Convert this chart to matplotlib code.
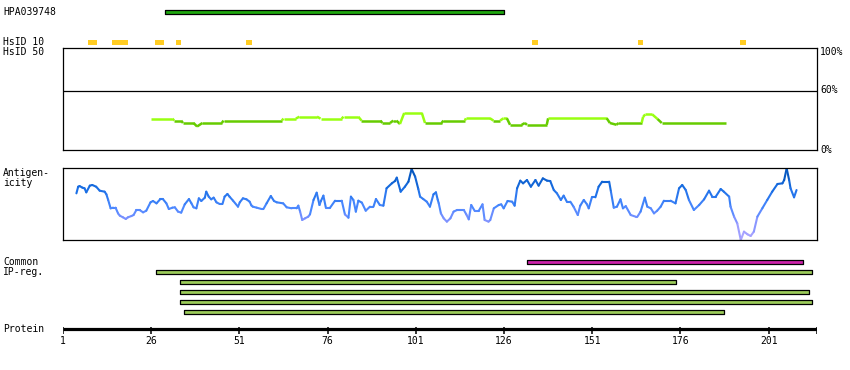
import matplotlib
matplotlib.use("Agg")
import matplotlib.pyplot as plt
import numpy as np
from matplotlib.collections import LineCollection
from matplotlib.colors import LinearSegmentedColormap

# ---------------- data ----------------
protein_len_end = 214.7
tick_residues = [1, 26, 51, 76, 101, 126, 151, 176, 201]

hpa_start, hpa_end = 30, 126

hsid10_starts = [8, 15, 27, 33, 53, 134, 164, 193]
hsid10_ends = [10.5, 19.5, 29.5, 34.5, 54.5, 135.5, 165.5, 194.5]

hs_res = [26, 32, 32.5, 34.5, 35, 38, 39, 40.5, 46, 46.5, 63, 63.5, 67, 68, 73, 74, 80, 80.5,
          84.7, 85.6, 91, 91.5, 93.7, 94.6, 95.5, 96.5, 97.7, 102.7, 103.6, 108.3, 108.8,
          114.9, 115.2, 122, 123, 124.9, 125.8, 126.8, 127.7, 131, 131.9, 132.5, 138.1,
          138.5, 155.1, 156, 157.9, 158.4, 165, 165.4, 166, 168, 169.5, 170.7, 189]
hs_val = [31.4, 31.4, 29.4, 29.4, 27, 27, 23.5, 27, 27, 29.4, 29.4, 31.4, 31.4, 33.3, 33.3,
          31.4, 31.4, 33.3, 33.3, 29.4, 29.4, 27, 27, 29.4, 29.4, 26, 37, 37, 27, 27, 29.4,
          29.4, 31.7, 31.7, 29.4, 29.4, 31.7, 31.7, 25.2, 25.2, 27, 25.2, 25.2, 31.7, 31.7,
          27, 25.2, 27, 27, 33, 35.6, 35.6, 31, 27, 27]

ag_res = [4.8, 5.3, 5.7, 6.5, 7.1, 7.6, 8.6, 9.3, 10.4, 11.4, 12.8, 13.3, 13.8, 14.5, 15.2,
          15.9, 16.6, 17.1, 18.0, 18.8, 19.4, 20.4, 21.0, 21.8, 22.7, 23.7, 24.6, 25.8, 26.5,
          27.5, 28.6, 29.3, 30.3, 31.0, 32.0, 32.7, 33.6, 34.5, 35.5, 36.7, 37.4, 38.0, 38.8,
          39.5, 40.2, 41.2, 41.6, 42.3, 43.0, 43.7, 44.5, 45.4, 46.2, 46.8, 47.6, 48.2, 49.2,
          50.6, 51.1, 52.0, 53.0, 53.9, 54.4, 54.8, 55.9, 57.3, 57.8, 58.7, 59.9, 60.8, 61.6,
          63.4, 64.4, 65.8, 67.2, 67.7, 68.2, 68.8, 69.6, 70.5, 71.0, 72.0, 72.9, 73.7, 74.1,
          74.8, 75.5, 76.7, 78.1, 80.0, 80.9, 81.9, 82.6, 83.3, 84.0, 84.7, 85.7, 86.8, 88.0,
          89.0, 89.7, 90.8, 91.8, 92.7, 94.2, 95.1, 95.6, 96.7, 97.9, 98.9, 99.8, 100.8, 101.7,
          102.2, 103.1, 104.1, 105.0, 106.0, 106.7, 107.2, 107.5, 108.1, 108.9, 109.8, 110.8,
          111.7, 112.7, 113.6, 114.6, 115.3, 116.0, 116.7, 117.7, 118.8, 119.9, 120.5, 121.6,
          122.1, 123.1, 124.5, 125.2, 125.9, 127.0, 128.3, 129.0, 129.7, 130.6, 131.4, 132.5,
          133.6, 134.9, 135.8, 137.0, 138.2, 139.1, 140.1, 141.0, 142.1, 142.9, 143.8, 144.8,
          145.7, 146.9, 147.6, 148.6, 149.5, 150.0, 150.9, 151.9, 152.8, 153.8, 155.8, 156.3,
          157.1, 158.0, 159.0, 159.7, 160.5, 161.9, 163.3, 163.8, 164.7, 165.9, 166.6, 167.6,
          168.5, 169.4, 170.4, 171.3, 173.2, 174.6, 175.6, 176.5, 177.5, 178.4, 179.8, 181.3,
          182.7, 184.1, 185.0, 186.0, 187.4, 188.3, 189.8, 190.2, 191.2, 192.1, 193.1, 194.0,
          195.0, 195.9, 196.8, 197.8, 199.2, 200.6, 202.0, 203.5, 204.9, 205.4, 206.1, 206.8,
          207.2, 208.2, 208.9]
ag_val = [64.8, 74.0, 74.9, 72.7, 71.8, 66.2, 75.5, 76.4, 74.0, 68.5, 67.1, 63.4, 55.6, 44.0,
          44.9, 44.9, 37.0, 33.8, 31.5, 29.2, 31.5, 33.3, 34.7, 41.7, 41.7, 38.4, 40.7, 52.3,
          54.2, 50.9, 56.9, 56.9, 50.9, 43.0, 44.9, 45.4, 39.4, 38.0, 49.5, 56.9, 50.9, 45.4,
          44.0, 57.9, 54.2, 58.8, 67.1, 60.2, 56.5, 58.8, 52.3, 50.0, 50.0, 60.2, 63.9, 60.2,
          54.6, 46.3, 52.3, 57.9, 56.5, 53.2, 48.0, 46.3, 44.9, 43.0, 43.0, 50.9, 61.1, 54.2,
          52.3, 50.9, 45.4, 44.0, 44.0, 47.7, 39.4, 27.8, 30.1, 32.4, 35.6, 55.6, 65.7, 48.6,
          54.2, 61.6, 44.9, 44.9, 54.6, 54.6, 35.6, 31.0, 60.2, 55.6, 39.4, 54.6, 51.9, 40.7,
          46.3, 46.3, 56.9, 48.6, 47.7, 71.8, 78.7, 81.9, 86.6, 67.1, 74.0, 81.0, 98.6, 88.0,
          70.8, 60.2, 56.9, 53.2, 46.3, 63.4, 66.2, 56.0, 50.9, 37.0, 30.1, 25.5, 30.1, 39.4,
          41.7, 41.7, 41.7, 35.6, 28.7, 48.6, 40.3, 40.3, 49.5, 27.8, 25.5, 27.8, 44.0, 48.6,
          49.5, 44.0, 54.2, 53.2, 47.7, 71.8, 82.4, 78.7, 83.3, 74.0, 83.3, 75.5, 85.6, 82.4,
          81.9, 69.4, 64.8, 55.6, 61.6, 53.2, 53.2, 46.3, 34.7, 47.7, 55.6, 49.5, 44.0, 59.3,
          59.3, 74.0, 81.0, 81.0, 67.1, 44.9, 46.3, 56.5, 44.0, 47.0, 34.7, 32.4, 32.4, 39.4,
          58.8, 46.3, 44.0, 37.0, 40.7, 46.3, 54.6, 54.6, 50.9, 71.8, 76.4, 69.4, 55.6, 41.7,
          48.6, 56.5, 68.5, 60.2, 60.2, 70.8, 67.1, 60.2, 46.3, 32.4, 23.1, 0.0, 11.6, 7.9,
          5.6, 11.6, 32.4, 44.0, 55.6, 67.1, 77.8, 78.7, 83.3, 99.5, 83.3, 71.8, 59.3, 69.4]

common_start, common_end = 132.4, 210.6
ipreg_starts = [27.3, 34.2, 34.2, 34.2, 35.4]
ipreg_ends = [213.4, 174.6, 212.5, 213.4, 188.4]

# ---------------- figure ----------------
W, H = 850, 370
fig = plt.figure(figsize=(W / 100, H / 100), dpi=100)
fig.patch.set_facecolor("white")

X0, X1 = 63, 817
FONT = dict(family="DejaVu Sans Mono", fontsize=7, color="black")


def rect(y_top, y_bot):
    return [X0 / W, 1 - y_bot / H, (X1 - X0) / W, (y_bot - y_top) / H]


def ftext(x, y, s, **kw):
    d = dict(FONT)
    d.update(kw)
    fig.text(x / W, 1 - y / H, s, va="center", **d)


# overlay axes (x in residues, y in pixel rows)
ov = fig.add_axes([X0 / W, 0, (X1 - X0) / W, 1])
ov.set_xlim(1, protein_len_end)
ov.set_ylim(H, 0)
ov.axis("off")

# HPA bar
ov.broken_barh([(hpa_start, hpa_end - hpa_start)], (9.8, 4.4),
               facecolors="#1fa80f", edgecolors="black", linewidth=0.9)
# HsID 10 marks
ov.broken_barh([(s, e - s) for s, e in zip(hsid10_starts, hsid10_ends)], (40, 4.6),
               facecolors="#ffcc22", edgecolors="none")
# Common bar
ov.broken_barh([(common_start, common_end - common_start)], (260.3, 4),
               facecolors="#cc22aa", edgecolors="black", linewidth=0.9)
# IP-reg bars
for i, (s, e) in enumerate(zip(ipreg_starts, ipreg_ends)):
    ov.broken_barh([(s, e - s)], (270.3 + 10 * i, 4),
                   facecolors="#9ccc5a", edgecolors="black", linewidth=0.9)

# Protein axis
ov.hlines(329.3, 1, protein_len_end, color="black", linewidth=2.3)
ov.vlines(tick_residues + [protein_len_end], 327, 333.5, color="black", linewidth=1.1)
for t in tick_residues:
    ov.text(t, 341.5, str(t), ha="center", va="center", **FONT)

# HsID 50 panel
hs = fig.add_axes(rect(48, 150))
hs.set_xlim(1, protein_len_end)
hs.set_ylim(0, 102)
hs.set_xticks([])
hs.set_yticks([])
for sp in hs.spines.values():
    sp.set_linewidth(0.9)
hs.axhline(59, color="black", linewidth=0.9)
pts = np.column_stack([hs_res, hs_val])
segs = np.stack([pts[:-1], pts[1:]], axis=1)
cols = ["#99ff11" if (a + b) / 2 >= 30 else "#66cc00" for a, b in zip(hs_val[:-1], hs_val[1:])]
hs.add_collection(LineCollection(segs, colors=cols, linewidths=1.8, capstyle="butt"))

# Antigenicity panel
ag = fig.add_axes(rect(168, 240))
ag.set_xlim(1, protein_len_end)
ag.set_ylim(0, 100)
ag.set_xticks([])
ag.set_yticks([])
for sp in ag.spines.values():
    sp.set_linewidth(0.9)
cmap = LinearSegmentedColormap.from_list(
    "ag", [(0, "#b4a8ff"), (0.3, "#7a90ff"), (0.45, "#4a88ff"), (0.7, "#1a6fe6"), (1.0, "#0050b4")])
pts = np.column_stack([ag_res, ag_val])
segs = np.stack([pts[:-1], pts[1:]], axis=1)
mids = [(a + b) / 200 for a, b in zip(ag_val[:-1], ag_val[1:])]
ag.add_collection(LineCollection(segs, colors=cmap(mids), linewidths=1.5, capstyle="round"))

# labels
ftext(3, 12, "HPA039748")
ftext(3, 42, "HsID 10")
ftext(3, 52, "HsID 50")
ftext(820, 52, "100%")
ftext(820, 90, "60%")
ftext(820, 150, "0%")
ftext(3, 173, "Antigen-")
ftext(3, 183, "icity")
ftext(3, 262, "Common")
ftext(3, 272, "IP-reg.")
ftext(3, 329, "Protein")

fig.savefig("out.png", dpi=100, facecolor="white")
